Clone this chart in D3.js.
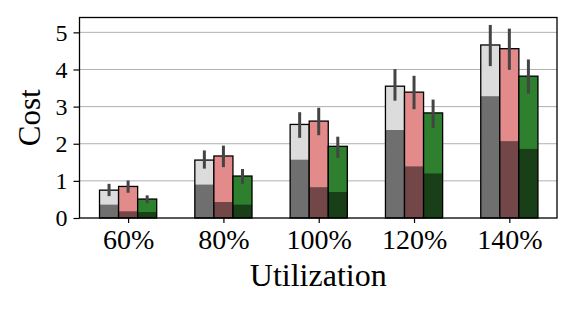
<!DOCTYPE html>
<html>
<head>
<meta charset="utf-8">
<script src="https://cdn.jsdelivr.net/npm/d3@7"></script>
<style>
  body { margin: 0; background: #fff; }
</style>
</head>
<body>
<div id="chart-container"></div>
<script>
// Data
const categories = ["60%", "80%", "100%", "120%", "140%"];
const yTicks = [0, 1, 2, 3, 4, 5];

// grey series
const greyTotal = [0.75, 1.56, 2.52, 3.55, 4.66];
const greyBase  = [0.36, 0.90, 1.57, 2.37, 3.28];
const greyLow   = [0.59, 1.33, 2.16, 3.16, 4.09];
const greyHigh  = [0.92, 1.82, 2.85, 4.01, 5.20];

// pink series
const pinkTotal = [0.85, 1.67, 2.61, 3.39, 4.56];
const pinkBase  = [0.18, 0.43, 0.83, 1.39, 2.07];
const pinkLow   = [0.68, 1.37, 2.23, 2.93, 3.99];
const pinkHigh  = [1.01, 1.95, 2.97, 3.83, 5.10];

// green series
const greenTotal = [0.51, 1.13, 1.93, 2.83, 3.82];
const greenBase  = [0.16, 0.36, 0.70, 1.20, 1.86];
const greenLow   = [0.40, 0.92, 1.62, 2.42, 3.35];
const greenHigh  = [0.61, 1.32, 2.19, 3.19, 4.27];

const series = [
  { total: greyTotal, base: greyBase, low: greyLow, high: greyHigh },
  { total: pinkTotal, base: pinkBase, low: pinkLow, high: pinkHigh },
  { total: greenTotal, base: greenBase, low: greenLow, high: greenHigh }
];

// Styles for each series (light top, dark bottom)
const lightColors = ["#dcdcdc", "#e38a8a", "#2e7f2e"];
const darkColors  = ["#6f6f6f", "#734747", "#183f18"];
const barWidth = 0.2;
const offsets = [-0.2, 0, 0.2];
const serif = "'Liberation Serif', 'Times New Roman', serif";

const svgWidth = 574;
const svgHeight = 310;
const plot = { left: 79.5, right: 557, top: 17.5, bottom: 218 };

const svg = d3.select("#chart-container").append("svg")
    .attr("width", svgWidth)
    .attr("height", svgHeight)
    .attr("font-family", serif);

const x = d3.scaleLinear()
    .domain([-0.51, 4.50])
    .range([plot.left, plot.right]);

const y = d3.scaleLinear()
    .domain([0, 5.4])
    .range([plot.bottom, plot.top]);

// Grid lines behind the bars
svg.append("g")
    .selectAll("line")
    .data(yTicks.slice(1))
    .join("line")
    .attr("x1", plot.left)
    .attr("x2", plot.right)
    .attr("y1", d => y(d))
    .attr("y2", d => y(d))
    .attr("stroke", "#b0b0b0")
    .attr("stroke-width", 1);

// Bars
series.forEach((s, k) => {
    const g = svg.append("g");
    const w = x(barWidth) - x(0);

    // light full bar
    g.selectAll(".light")
        .data(s.total)
        .join("rect")
        .attr("x", (d, i) => x(i + offsets[k]) - w / 2)
        .attr("y", d => y(d))
        .attr("width", w)
        .attr("height", d => y(0) - y(d))
        .attr("fill", lightColors[k]);

    // dark lower part
    g.selectAll(".dark")
        .data(s.base)
        .join("rect")
        .attr("x", (d, i) => x(i + offsets[k]) - w / 2)
        .attr("y", d => y(d))
        .attr("width", w)
        .attr("height", d => y(0) - y(d))
        .attr("fill", darkColors[k]);

    // outline
    g.selectAll(".outline")
        .data(s.total)
        .join("rect")
        .attr("x", (d, i) => x(i + offsets[k]) - w / 2)
        .attr("y", d => y(d))
        .attr("width", w)
        .attr("height", d => y(0) - y(d))
        .attr("fill", "none")
        .attr("stroke", "#000")
        .attr("stroke-width", 1.3);
});

// Error bars on top
series.forEach((s, k) => {
    svg.append("g")
        .selectAll("line")
        .data(s.low)
        .join("line")
        .attr("x1", (d, i) => x(i + offsets[k]))
        .attr("x2", (d, i) => x(i + offsets[k]))
        .attr("y1", d => y(d))
        .attr("y2", (d, i) => y(s.high[i]))
        .attr("stroke", "#444")
        .attr("stroke-width", 3);
});

// Frame
svg.append("rect")
    .attr("x", plot.left)
    .attr("y", plot.top)
    .attr("width", plot.right - plot.left)
    .attr("height", plot.bottom - plot.top)
    .attr("fill", "none")
    .attr("stroke", "#000")
    .attr("stroke-width", 1.3);

// Y axis
const yAxis = svg.append("g")
    .attr("transform", `translate(${plot.left},0)`)
    .call(d3.axisLeft(y).tickValues(yTicks).tickFormat(d3.format("d")).tickSize(6).tickPadding(6))
    .attr("font-family", serif)
    .attr("font-size", 24);
yAxis.select(".domain").remove();
yAxis.selectAll("text").attr("fill", "#000");
yAxis.selectAll("line").attr("stroke-width", 1.2);

// X axis
const xAxis = svg.append("g")
    .attr("transform", `translate(0,${plot.bottom})`)
    .call(d3.axisBottom(x).tickValues(d3.range(categories.length))
        .tickFormat(i => categories[i]).tickSize(5).tickPadding(6))
    .attr("font-family", serif)
    .attr("font-size", 28);
xAxis.select(".domain").remove();
xAxis.selectAll("text").attr("fill", "#000");
xAxis.selectAll("line").attr("stroke-width", 1.2);

// Axis labels
svg.append("text")
    .attr("x", (plot.left + plot.right) / 2)
    .attr("y", 286)
    .attr("text-anchor", "middle")
    .attr("font-size", 32)
    .text("Utilization");

svg.append("text")
    .attr("transform", `translate(40,${(plot.top + plot.bottom) / 2}) rotate(-90)`)
    .attr("text-anchor", "middle")
    .attr("font-size", 31)
    .text("Cost");
</script>
</body>
</html>
